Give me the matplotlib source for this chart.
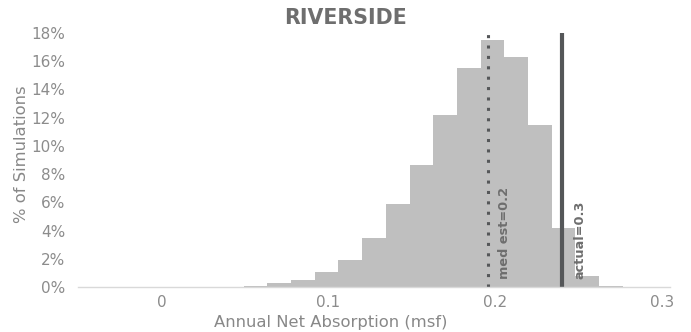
import numpy as np
import matplotlib.pyplot as plt

# histogram: bins of width ~0.0142 starting at -0.05, % of simulations
bin_start = -0.05
bin_width = 0.0142
pct = [0.03, 0, 0, 0.02, 0.02, 0.02, 0.02, 0.1, 0.25, 0.5, 1.08, 1.93, 3.5,
       5.9, 8.67, 12.18, 15.5, 17.5, 16.3, 11.5, 4.2, 0.8, 0.1, 0, 0]
med_est = 0.196
actual = 0.2402
xticks = [0, 0.1, 0.2, 0.3]
xtick_labels = ['0', '0.1', '0.2', '0.3']
yticks = [0, 2, 4, 6, 8, 10, 12, 14, 16, 18]

plt.rcParams['font.family'] = ['DejaVu Sans']

fig = plt.figure(figsize=(6.91, 3.32), dpi=100)
ax = fig.add_axes([78 / 691, 45 / 332, 592 / 691, 254 / 332])

left = bin_start + np.arange(len(pct)) * bin_width
ax.bar(left, pct, width=bin_width, align='edge', color='#bfbfbf', edgecolor='none')

ax.plot([med_est, med_est], [0, 17.9], color='#555759', lw=2.2, linestyle=(0, (1.0, 2.4)))
ax.plot([actual, actual], [0, 18], color='#555759', lw=3.0)

ax.text(med_est + 0.006, 0.6, 'med est=0.2', rotation=90, ha='left', va='bottom',
        fontsize=9.3, fontweight='bold', color='#6e6e6e')
ax.text(actual + 0.007, 0.6, 'actual=0.3', rotation=90, ha='left', va='bottom',
        fontsize=9.3, fontweight='bold', color='#6e6e6e')

ax.set_xlim(-0.05, 0.305)
ax.set_ylim(0, 18)
ax.set_xticks(xticks)
ax.set_xticklabels(xtick_labels)
ax.set_yticks(yticks)
ax.set_yticklabels([f'{v}%' for v in yticks])
ax.tick_params(length=0, labelsize=11, colors='#8c8c8c')
ax.tick_params(axis='y', pad=9)
ax.tick_params(axis='x', pad=6)
for s in ['top', 'right', 'left']:
    ax.spines[s].set_visible(False)
ax.spines['bottom'].set_color('#d9d9d9')
ax.spines['bottom'].set_linewidth(1)

fig.text(345 / 691, 1 - 18 / 332, 'RIVERSIDE', ha='center', va='center',
         fontsize=14.8, fontweight='bold', color='#6e6e6e')
fig.text(331 / 691, 1 - 322 / 332, 'Annual Net Absorption (msf)', ha='center', va='center',
         fontsize=11.8, color='#888888')
fig.text(22 / 691, 1 - 154 / 332, '% of Simulations', ha='center', va='center',
         rotation=90, fontsize=11.8, color='#888888')

fig.savefig('out.png', dpi=100)
